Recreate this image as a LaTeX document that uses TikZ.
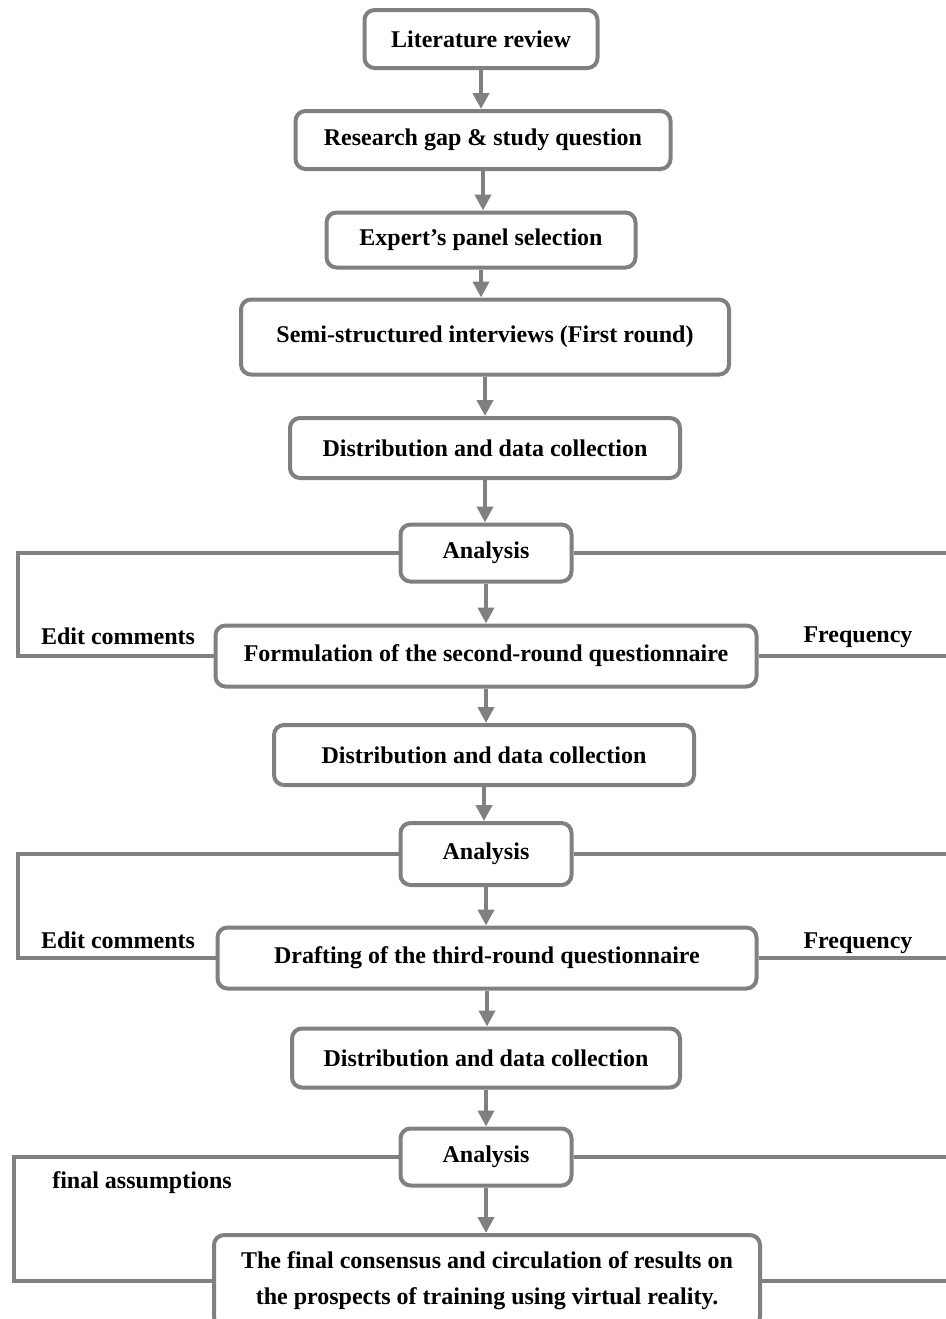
\documentclass[tikz,border=0pt]{standalone}
\usepackage{fontspec}
\setmainfont{Liberation Serif}
\usepackage{tikz}
\usetikzlibrary{arrows.meta}
\definecolor{linegray}{RGB}{128, 128, 128}

\tikzset{
  stepbox/.style={draw=linegray, line width=2pt, rounded corners=5pt, fill=white,
    font=\fontsize{12}{18}\selectfont\bfseries, align=center, inner sep=2pt},
  flow/.style={linegray, line width=2.4pt, -{Triangle[width=8pt, length=8pt]}},
  link/.style={linegray, line width=1.6pt},
  tag/.style={font=\fontsize{12}{14}\selectfont\bfseries}
}

\begin{document}
\begin{tikzpicture}[x=0.5pt, y=-0.5pt]
        \useasboundingbox (0,0) rectangle (946,1319);

        % main column
        \node[stepbox, minimum width=116.5pt, minimum height=29pt] (lit) at (481,39) {Literature review};
        \node[stepbox, minimum width=187.5pt, minimum height=29pt] (gap) at (483,140) {Research gap \& study question};
        \node[stepbox, minimum width=154.5pt, minimum height=27.5pt] (panel) at (481,240) {Expert’s panel selection};
        \node[stepbox, minimum width=244pt, minimum height=37.5pt] (interv) at (485,337) {Semi-structured interviews (First round)};
        \node[stepbox, minimum width=195pt, minimum height=30pt] (dist1) at (485,448) {Distribution and data collection};
        \node[stepbox, minimum width=85.5pt, minimum height=28.5pt] (ana1) at (486,553) {Analysis};
        \node[stepbox, minimum width=270.5pt, minimum height=30.5pt] (form2) at (486,656) {Formulation of the second-round questionnaire};
        \node[stepbox, minimum width=210pt, minimum height=30pt] (dist2) at (484,755) {Distribution and data collection};
        \node[stepbox, minimum width=85.5pt, minimum height=31pt] (ana2) at (486,854) {Analysis};
        \node[stepbox, minimum width=269.5pt, minimum height=30.5pt] (draft3) at (487,958) {Drafting of the third-round questionnaire};
        \node[stepbox, minimum width=194pt, minimum height=29.5pt] (dist3) at (486,1058) {Distribution and data collection};
        \node[stepbox, minimum width=85.5pt, minimum height=28.5pt] (ana3) at (486,1157) {Analysis};
        \node[stepbox, minimum width=273pt, minimum height=46pt] (final) at (487,1281)
          {The final consensus and circulation of results on\\the prospects of training using virtual reality.};

        % arrows down the column
        \foreach \a/\b in {lit/gap, gap/panel, panel/interv, interv/dist1, dist1/ana1, ana1/form2,
                           form2/dist2, dist2/ana2, ana2/draft3, draft3/dist3, dist3/ana3, ana3/final}
          \draw[flow] (\a.south) -- (\a.south |- \b.north);

        % feedback loops
        \coordinate (left1) at (18,600);
        \coordinate (left2) at (18,900);
        \coordinate (left3) at (14,1200);
        \coordinate (redge) at (946,0);

        \draw[link] (ana1.west) -| (left1) |- (form2.west);
        \draw[link] (ana2.west) -| (left2) |- (draft3.west);
        \draw[link] (ana3.west) -| (left3) |- (final.west);

        \draw[link] (ana1.east) -- (ana1.east -| redge);
        \draw[link] (form2.east) -- (form2.east -| redge);
        \draw[link] (ana2.east) -- (ana2.east -| redge);
        \draw[link] (draft3.east) -- (draft3.east -| redge);
        \draw[link] (ana3.east) -- (ana3.east -| redge);
        \draw[link] (final.east) -- (final.east -| redge);

        % loop labels
        \node[tag] (edit1) at (118,636) {Edit comments};
        \node[tag] (freq1) at (858,637) {Frequency};
        \node[tag] (edit2) at (118,940) {Edit comments};
        \node[tag] (freq2) at (858,943) {Frequency};
        \node[tag] (assume) at (142,1183) {final assumptions};
    \end{tikzpicture}
\end{document}
